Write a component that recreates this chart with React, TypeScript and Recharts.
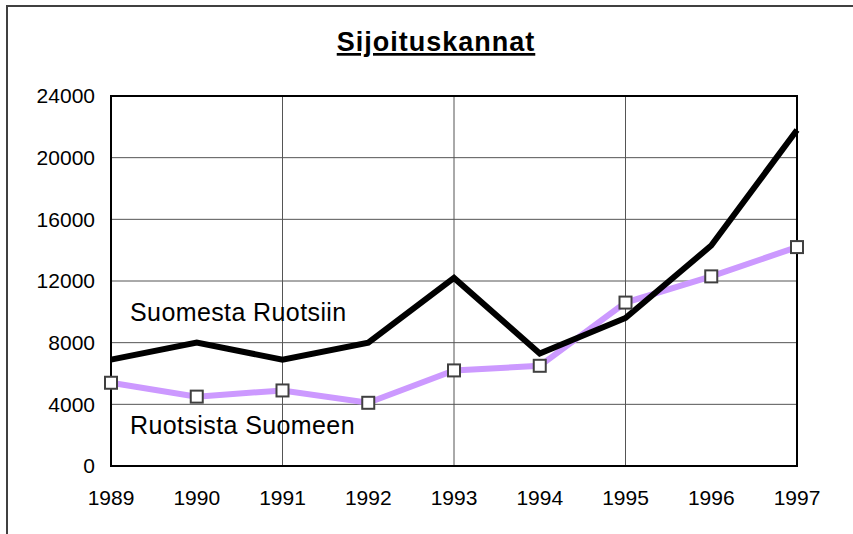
import React from "react";
import {
  LineChart,
  Line,
  XAxis,
  YAxis,
  CartesianGrid,
  ReferenceArea,
} from "recharts";

const years = [1989, 1990, 1991, 1992, 1993, 1994, 1995, 1996, 1997];
const gridYears = [1989, 1991, 1993, 1995, 1997];
const suomestaRuotsiin = [6900, 8000, 6900, 8000, 12200, 7300, 9600, 14300, 21800];
const ruotsistaSuomeen = [5400, 4500, 4900, 4100, 6200, 6500, 10600, 12300, 14200];
const yTicks = [0, 4000, 8000, 12000, 16000, 20000, 24000];

const data = years.map((year, i) => ({
  year,
  fi2se: suomestaRuotsiin[i],
  se2fi: ruotsistaSuomeen[i],
}));

const FONT = "'Liberation Sans', Arial, sans-serif";

const SquareDot = (props: any) => {
  const { cx, cy, index } = props;
  if (cx == null || cy == null) return null;
  return (
    <rect
      key={`sq-${index}`}
      x={cx - 6}
      y={cy - 6}
      width={12}
      height={12}
      fill="#ffffff"
      stroke="#404040"
      strokeWidth={2}
    />
  );
};

export default function App() {
  return (
    <div
      style={{
        position: "fixed",
        left: 0,
        top: 0,
        width: 853,
        height: 534,
        overflow: "hidden",
        background: "#fff",
        fontFamily: FONT,
      }}
    >
      {/* outer chart frame, right/bottom edges fall outside the picture */}
      <div
        style={{
          position: "absolute",
          left: 6,
          top: 5,
          width: 900,
          height: 600,
          borderLeft: "2px solid #404040",
          borderTop: "2px solid #404040",
        }}
      />
      <div style={{ position: "absolute", left: 0, top: 0 }}>
        <LineChart
          width={853}
          height={534}
          data={data}
          margin={{ top: 96, right: 56, left: 0, bottom: 38 }}
        >
          <XAxis
            xAxisId="grid"
            type="number"
            dataKey="year"
            domain={[1989, 1997]}
            ticks={gridYears}
            hide
          />
          <CartesianGrid xAxisId="grid" stroke="#555" strokeWidth={1} />
          <XAxis
            dataKey="year"
            type="number"
            domain={[1989, 1997]}
            ticks={years}
            interval={0}
            height={30}
            tickLine={false}
            tickMargin={18}
            axisLine={{ stroke: "#000", strokeWidth: 2 }}
            tick={{ fill: "#000", fontSize: 21, fontFamily: FONT }}
          />
          <YAxis
            domain={[0, 24000]}
            ticks={yTicks}
            width={111}
            tickLine={false}
            tickMargin={10}
            axisLine={{ stroke: "#000", strokeWidth: 2 }}
            tick={{ fill: "#000", fontSize: 21, fontFamily: FONT }}
          />
          <ReferenceArea
            x1={1989}
            x2={1997}
            y1={0}
            y2={24000}
            fill="none"
            stroke="#000"
            strokeWidth={2}
          />
          <Line
            dataKey="se2fi"
            stroke="#CC99FF"
            strokeWidth={6}
            dot={<SquareDot />}
            isAnimationActive={false}
          />
          <Line
            dataKey="fi2se"
            stroke="#000"
            strokeWidth={6}
            dot={false}
            isAnimationActive={false}
          />
        </LineChart>
      </div>
      <svg
        width={853}
        height={534}
        style={{ position: "absolute", left: 0, top: 0, pointerEvents: "none" }}
      >
        <text
          x={436}
          y={51}
          textAnchor="middle"
          fontSize={27}
          fontWeight="bold"
          fontFamily={FONT}
          textDecoration="underline"
          letterSpacing={1}
        >
          Sijoituskannat
        </text>
        <text x={130} y={321} fontSize={25} fontFamily={FONT} letterSpacing={0.4}>
          Suomesta Ruotsiin
        </text>
        <text x={130} y={434} fontSize={25} fontFamily={FONT} letterSpacing={0.4}>
          Ruotsista Suomeen
        </text>
      </svg>
    </div>
  );
}
